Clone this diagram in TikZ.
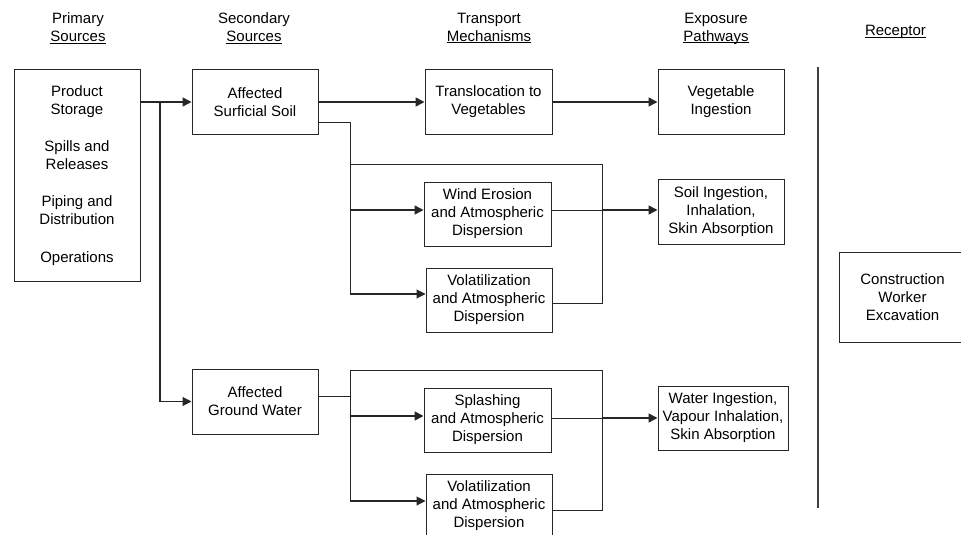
\documentclass[tikz,border=0pt]{standalone}
\usepackage{fontspec}
\setmainfont{Liberation Sans}
\usetikzlibrary{arrows.meta}
\newcommand\headrule[1]{\underline{\smash{#1}}}
\begin{document}
\begin{tikzpicture}[x=1pt,y=-1pt,
  every node/.style={font=\fontsize{15}{18}\selectfont, text=black},
  box/.style={draw=black!85, line width=1pt, align=center, inner sep=0pt,
              minimum width=126pt, minimum height=64pt},
  head/.style={align=center, inner sep=0pt},
  wire/.style={line width=0.9pt, draw=black!85},
  feed/.style={line width=1.6pt, draw=black!85, -{Triangle[length=9pt,width=9pt]}},
  feedthin/.style={line width=1.1pt, draw=black!85, -{Triangle[length=9pt,width=9pt]}}
]
\clip (0,0) rectangle (961,535);
\fill[white] (0,0) rectangle (961,535);

% column headings
\node[head] (hPrim)  at (78,28)    {Primary\\\headrule{Sources}};
\node[head] (hSec)   at (254,28)   {Secondary\\\headrule{Sources}};
\node[head] (hTrans) at (489,28)   {Transport\\\headrule{Mechanisms}};
\node[head] (hExp)   at (716,28)   {Exposure\\\headrule{Pathways}};
\node[head] (hRec)   at (895.5,37) {\headrule{Receptor}};

% primary sources
\node[box, minimum height=211pt] (prim) at (77,175.5)
  {Product\\Storage\\[19pt]Spills and\\Releases\\[19pt]Piping and\\Distribution\\[20pt]Operations};

% secondary sources
\node[box] (soil) at (255,102)   {Affected\\Surficial Soil};
\node[box, minimum height=65pt] (gw) at (255,401.5) {Affected\\Ground Water};

% transport mechanisms
\node[box, minimum width=127pt] (transl) at (488.5,102) {Translocation to\\Vegetables};
\node[box, minimum width=127pt] (wind)   at (487.5,214) {Wind Erosion\\and Atmospheric\\Dispersion};
\node[box] (vol1)   at (489,300)   {Volatilization\\and Atmospheric\\Dispersion};
\node[box, minimum width=127pt] (splash) at (487.5,420) {Splashing\\and Atmospheric\\Dispersion};
\node[box] (vol2)   at (489,506)   {Volatilization\\and Atmospheric\\Dispersion};

% exposure pathways
\node[box] (veg)     at (721,102)   {Vegetable\\Ingestion};
\node[box, minimum height=65pt] (soiling) at (721,211.5) {Soil Ingestion,\\Inhalation,\\Skin Absorption};
\node[box, minimum width=130pt] (water)   at (723,418)   {Water Ingestion,\\Vapour Inhalation,\\Skin Absorption};

% receptor
\node[box, minimum width=127pt, minimum height=90pt] (constr) at (902.5,297)
  {Construction\\Worker\\Excavation};

% separator before the receptor column
\coordinate (sepTop) at (818,67);
\coordinate (sepBot) at (818,508);
\draw[line width=1.3pt, black!75] (sepTop) -- (sepBot);

% primary -> secondary
\draw[feed] (prim.east |- soil.west) -- (soil.west);
\coordinate (pSplit) at (160,102);
\draw[feedthin] (pSplit) |- (gw.west);

% surficial soil paths
\draw[feed] (soil) -- (transl);
\draw[feed] (transl) -- (veg);

\coordinate (sOut) at ([yshift=-20pt]soil.east);
\coordinate (sBus) at (350,122);
\coordinate (wIn)  at ([yshift=4pt]wind.west);
\coordinate (vIn)  at ([yshift=6pt]vol1.west);
\draw[wire] (sOut) -- (sBus) -- (sBus |- vIn);
\draw[feed] (sBus |- wIn) -- (wIn);
\draw[feedthin] (sBus |- vIn) -- (vIn);

\coordinate (lTop)   at (350,164);
\coordinate (lRight) at (602,164);
\coordinate (vOut)   at ([yshift=-3pt]vol1.east);
\draw[wire] (lTop) -- (lRight) -- (lRight |- vOut) -- (vOut);
\coordinate (wOut) at ([yshift=4pt]wind.east);
\draw[wire] (wOut) -- (wOut -| lRight);
\draw[feed] (wOut -| lRight) -- (soiling.west |- wOut);

% ground water paths
\coordinate (gOut)   at ([yshift=5pt]gw.east);
\coordinate (gTop)   at (350,370);
\coordinate (gRight) at (602,370);
\coordinate (spIn)   at ([yshift=4pt]splash.west);
\coordinate (v2In)   at ([yshift=5pt]vol2.west);
\coordinate (v2Out)  at ([yshift=-4pt]vol2.east);
\draw[wire] (gOut) -- (gOut -| gTop);
\draw[wire] (gTop) -- (gTop |- v2In);
\draw[wire] (gTop) -- (gRight) -- (gRight |- v2Out) -- (v2Out);
\draw[feed] (gTop |- spIn) -- (spIn);
\draw[feedthin] (gTop |- v2In) -- (v2In);
\coordinate (spOut) at ([yshift=2pt]splash.east);
\draw[wire] (spOut) -- (spOut -| gRight);
\draw[feed] (spOut -| gRight) -- (water.west |- spOut);
\end{tikzpicture}
\end{document}
